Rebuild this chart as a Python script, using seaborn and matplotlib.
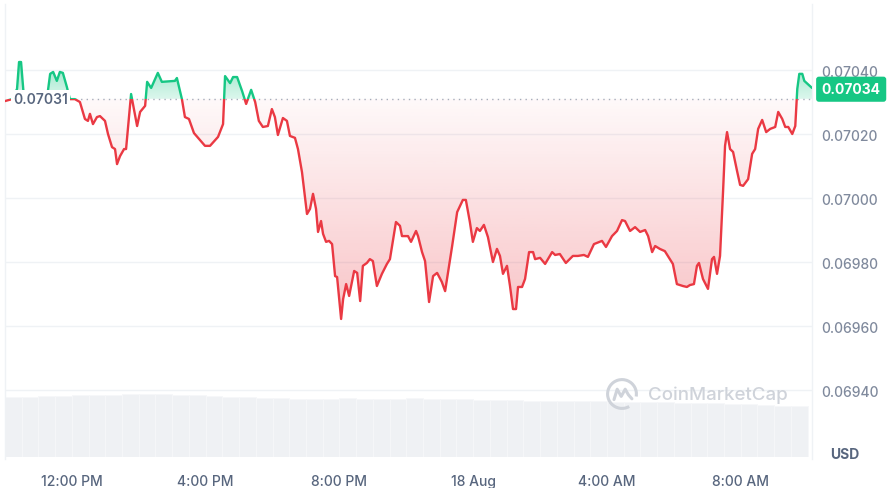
import numpy as np
import seaborn as sns
import matplotlib.pyplot as plt
from matplotlib.patches import Rectangle, Arc
from matplotlib.path import Path

# hours after 10:00 AM, 17 Aug
hours = [0.00, 0.21, 0.36, 0.42, 0.48, 0.57, 0.90, 1.26, 1.35, 1.44,
         1.55, 1.64, 1.73, 1.85, 1.94, 2.09, 2.24, 2.39, 2.48, 2.54,
         2.63, 2.75, 2.84, 2.99, 3.08, 3.20, 3.29, 3.35, 3.44, 3.56,
         3.62, 3.77, 3.95, 4.04, 4.19, 4.25, 4.37, 4.57, 4.69, 5.08,
         5.14, 5.29, 5.38, 5.50, 5.65, 5.83, 5.98, 6.13, 6.37, 6.52,
         6.58, 6.73, 6.82, 6.94, 7.09, 7.21, 7.36, 7.48, 7.59, 7.71,
         7.86, 7.98, 8.07, 8.16, 8.31, 8.43, 8.52, 8.67, 8.76, 8.88,
         9.03, 9.12, 9.21, 9.30, 9.36, 9.45, 9.51, 9.60, 9.69, 9.78,
         9.87, 9.93, 10.05, 10.11, 10.20, 10.29, 10.44, 10.53, 10.62, 10.70,
         10.82, 10.91, 11.00, 11.12, 11.27, 11.42, 11.51, 11.69, 11.81, 11.87,
         12.05, 12.14, 12.29, 12.35, 12.47, 12.56, 12.68, 12.80, 12.92, 13.06,
         13.16, 13.25, 13.37, 13.52, 13.69, 13.78, 13.90, 13.99, 14.11, 14.20,
         14.32, 14.44, 14.59, 14.71, 14.80, 14.89, 15.01, 15.10, 15.19, 15.28,
         15.34, 15.46, 15.55, 15.67, 15.79, 15.85, 16.00, 16.15, 16.36, 16.45,
         16.59, 16.77, 16.98, 17.13, 17.31, 17.43, 17.61, 17.85, 17.97, 18.15,
         18.30, 18.45, 18.54, 18.69, 18.84, 18.99, 19.14, 19.23, 19.35, 19.44,
         19.58, 19.73, 19.88, 19.97, 20.09, 20.27, 20.39, 20.48, 20.60, 20.69,
         20.75, 20.87, 21.02, 21.14, 21.20, 21.29, 21.38, 21.47, 21.53, 21.59,
         21.68, 21.77, 21.89, 21.98, 22.07, 22.22, 22.34, 22.43, 22.52, 22.64,
         22.76, 22.88, 23.03, 23.12, 23.24, 23.33, 23.42, 23.54, 23.63, 23.69,
         23.75, 23.84, 23.90, 24.07, 24.13]

price = [0.070303, 0.070309, 0.070341, 0.070425, 0.070425, 0.070309, 0.070303, 0.070316, 0.070388, 0.070394,
         0.070366, 0.070394, 0.070391, 0.070347, 0.070309, 0.070309, 0.070300, 0.070247, 0.070241, 0.070263,
         0.070231, 0.070253, 0.070256, 0.070241, 0.070200, 0.070159, 0.070153, 0.070106, 0.070131, 0.070153,
         0.070153, 0.070325, 0.070225, 0.070269, 0.070288, 0.070363, 0.070344, 0.070391, 0.070363, 0.070366,
         0.070375, 0.070309, 0.070253, 0.070247, 0.070203, 0.070181, 0.070163, 0.070163, 0.070191, 0.070231,
         0.070381, 0.070359, 0.070378, 0.070378, 0.070334, 0.070294, 0.070338, 0.070300, 0.070241, 0.070222,
         0.070225, 0.070278, 0.070253, 0.070197, 0.070250, 0.070241, 0.070194, 0.070188, 0.070153, 0.070081,
         0.069950, 0.069966, 0.070013, 0.069966, 0.069894, 0.069928, 0.069888, 0.069863, 0.069866, 0.069856,
         0.069756, 0.069753, 0.069622, 0.069684, 0.069731, 0.069694, 0.069772, 0.069766, 0.069678, 0.069788,
         0.069797, 0.069809, 0.069803, 0.069725, 0.069763, 0.069794, 0.069809, 0.069925, 0.069913, 0.069881,
         0.069881, 0.069863, 0.069897, 0.069881, 0.069831, 0.069803, 0.069675, 0.069756, 0.069766, 0.069738,
         0.069709, 0.069769, 0.069850, 0.069956, 0.069994, 0.069994, 0.069925, 0.069863, 0.069906, 0.069897,
         0.069916, 0.069878, 0.069800, 0.069841, 0.069819, 0.069763, 0.069788, 0.069725, 0.069653, 0.069653,
         0.069722, 0.069722, 0.069747, 0.069831, 0.069831, 0.069809, 0.069813, 0.069794, 0.069831, 0.069822,
         0.069825, 0.069797, 0.069819, 0.069819, 0.069822, 0.069816, 0.069856, 0.069866, 0.069847, 0.069881,
         0.069897, 0.069931, 0.069928, 0.069897, 0.069909, 0.069894, 0.069900, 0.069881, 0.069831, 0.069850,
         0.069841, 0.069834, 0.069809, 0.069794, 0.069731, 0.069725, 0.069722, 0.069728, 0.069731, 0.069788,
         0.069797, 0.069747, 0.069716, 0.069809, 0.069816, 0.069763, 0.069819, 0.070019, 0.070163, 0.070206,
         0.070153, 0.070144, 0.070084, 0.070041, 0.070038, 0.070059, 0.070138, 0.070153, 0.070216, 0.070244,
         0.070206, 0.070216, 0.070222, 0.070269, 0.070247, 0.070222, 0.070222, 0.070200, 0.070225, 0.070341,
         0.070388, 0.070388, 0.070366, 0.070350, 0.070344]

open_price = 0.07031
last_price = 0.07034

# volume, every 30 min (relative units)
vol = [6.0, 6.0, 6.1, 6.1, 6.2, 6.2, 6.2, 6.3, 6.3, 6.3, 6.2, 6.2,
       6.1, 6.0, 6.0, 5.9, 5.9, 5.8, 5.8, 5.8, 5.9, 5.8, 5.8, 5.8,
       5.9, 5.8, 5.8, 5.8, 5.7, 5.7, 5.7, 5.6, 5.6, 5.6, 5.6, 5.6,
       5.5, 5.5, 5.5, 5.5, 5.4, 5.4, 5.4, 5.3, 5.3, 5.2, 5.1, 5.1]

tick_hours = [2, 6, 10, 14, 18, 22]
tick_labels = ['12:00 PM', '4:00 PM', '8:00 PM', '18 Aug', '4:00 AM', '8:00 AM']
price_ticks = [0.0694, 0.0696, 0.0698, 0.0700, 0.0702, 0.0704]

RED = '#ea3943'
GREEN = '#16c784'
GREY = '#808a9d'
MARK = '#cfd3da'

sns.set_theme(style='white')
plt.rcParams['font.family'] = ['Inter', 'DejaVu Sans']

hours = np.array(hours)
price = np.array(price)
x_max = 24.13
y_lo, y_hi = 0.0691844, 0.0706063

fig = plt.figure(figsize=(8.92, 4.89), dpi=100)
L, W = 5 / 892, 807 / 892

# volume bars underneath
ax_vol = fig.add_axes([L, 31 / 489, W, 70 / 489])
vol_x = 0.25 + 0.5 * np.arange(len(vol))
ax_vol.bar(vol_x, vol, width=0.5, color='#eff1f4', edgecolor='#f6f7f9', linewidth=0.6)
ax_vol.set_xlim(0, x_max)
ax_vol.set_ylim(0, 7)
ax_vol.axis('off')

ax = fig.add_axes([L, 29 / 489, W, 455 / 489])
ax.patch.set_alpha(0)
ax.set_xlim(0, x_max)
ax.set_ylim(y_lo, y_hi)

# grid
for t in price_ticks:
    ax.axhline(t, color='#eff2f5', lw=1, zorder=0)

# gradient fills
below = ax.fill_between(hours, price, open_price, where=price <= open_price,
                        interpolate=True, facecolor='none', edgecolor='none')
above = ax.fill_between(hours, price, open_price, where=price >= open_price,
                        interpolate=True, facecolor='none', edgecolor='none')

n = 256
red_grad = np.zeros((n, 1, 4))
red_grad[:, 0, :3] = plt.matplotlib.colors.to_rgb(RED)
red_grad[:, 0, 3] = np.linspace(0.3, 0.03, n)
im_r = ax.imshow(red_grad, extent=[0, x_max, price.min(), open_price],
                 origin='lower', aspect='auto', zorder=1)
im_r.set_clip_path(Path.make_compound_path(*below.get_paths()), transform=ax.transData)

green_grad = np.zeros((n, 1, 4))
green_grad[:, 0, :3] = plt.matplotlib.colors.to_rgb(GREEN)
green_grad[:, 0, 3] = np.linspace(0.15, 0.45, n)
im_g = ax.imshow(green_grad, extent=[0, x_max, open_price, price.max()],
                 origin='lower', aspect='auto', zorder=1)
im_g.set_clip_path(Path.make_compound_path(*above.get_paths()), transform=ax.transData)
ax.set_xlim(0, x_max)
ax.set_ylim(y_lo, y_hi)

# price line, red below open, green above
sns.lineplot(x=hours, y=price, ax=ax, color=RED, lw=1.7, zorder=3)
red_line = ax.lines[-1]
red_line.set_clip_path(Rectangle((0, y_lo), x_max, open_price - y_lo, transform=ax.transData))
sns.lineplot(x=hours, y=price, ax=ax, color=GREEN, lw=1.7, zorder=3)
green_line = ax.lines[-1]
green_line.set_clip_path(Rectangle((0, open_price), x_max, y_hi - open_price, transform=ax.transData))

# open price reference
ax.plot([2.1, x_max], [open_price, open_price], color='#a6adbb', lw=1,
        linestyle=(0, (1, 3)), zorder=2)
ax.text(0.25, open_price, f'{open_price:.5f}', va='center', ha='left',
        fontsize=10, fontweight='semibold', color='#58667e', zorder=5,
        bbox=dict(boxstyle='square,pad=0.15', fc='white', ec='none'))

# watermark
ax.text(0.797, 0.143, 'CoinMarketCap', transform=ax.transAxes, fontsize=13.5,
        color=MARK, va='center', ha='left', fontweight='medium', zorder=1)
ax_logo = fig.add_axes([606 / 892, (489 - 411) / 489, 32 / 892, 32 / 489])
ax_logo.set_xlim(-1, 1)
ax_logo.set_ylim(-1, 1)
ax_logo.axis('off')
ax_logo.add_patch(Arc((0, 0), 1.8, 1.8, theta1=-10, theta2=300, color=MARK, lw=2.2))
ax_logo.plot([-0.5, -0.3, -0.05, 0.2, 0.4, 0.62], [-0.35, 0.3, -0.15, 0.3, -0.05, -0.3],
             color=MARK, lw=2.2, solid_capstyle='round', solid_joinstyle='round')

# axes styling
for s in ['top', 'bottom']:
    ax.spines[s].set_visible(False)
for s in ['left', 'right']:
    ax.spines[s].set_color('#eff2f5')
    ax.spines[s].set_linewidth(1)

ax.yaxis.tick_right()
ax.set_yticks(price_ticks)
ax.set_yticklabels([f'{t:.5f}' for t in price_ticks])
ax.set_xticks(tick_hours)
ax.set_xticklabels(tick_labels)
ax.tick_params(axis='y', length=0, pad=7, labelsize=10, labelcolor=GREY)
ax.tick_params(axis='x', length=0, pad=11, labelsize=10, labelcolor='#58667e')
for lab in ax.get_yticklabels() + ax.get_xticklabels():
    lab.set_fontweight('medium')

# last price tag
ax.annotate(f'{last_price:.5f}', xy=(1.012, last_price), xycoords=('axes fraction', 'data'),
            va='center', ha='left', fontsize=10, fontweight='bold', color='white',
            bbox=dict(boxstyle='round,pad=0.4,rounding_size=0.2', fc=GREEN, ec='none'),
            annotation_clip=False, zorder=6)

fig.text(845 / 892, 1 - 455 / 489, 'USD', ha='center', va='center', fontsize=10,
         fontweight='bold', color='#58667e')

fig.savefig('out.png', dpi=100)
